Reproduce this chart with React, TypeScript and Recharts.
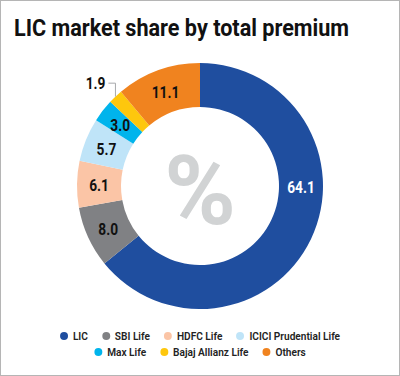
import React from "react";
import { PieChart, Pie, Cell, Legend } from "recharts";

const categories = ["LIC", "SBI Life", "HDFC Life", "ICICI Prudential Life", "Max Life", "Bajaj Allianz Life", "Others"];
const shares = [64.1, 8.0, 6.1, 5.7, 3.0, 1.9, 11.1];
const colors = ["#1f4e9f", "#808184", "#fbc5a6", "#bfe4f8", "#00b4ec", "#fec70d", "#f0831f"];
const legendRows = [
  ["LIC", "SBI Life", "HDFC Life", "ICICI Prudential Life"],
  ["Max Life", "Bajaj Allianz Life", "Others"],
];

const data = categories.map((name, i) => ({ name, value: shares[i], color: colors[i] }));

const FONT = "'Roboto', 'Liberation Sans', sans-serif";
const RAD = Math.PI / 180;
const LABEL_SX = 0.86;
const LEGEND_SX = 0.88;

const renderLabel = (props: any) => {
  const { cx, cy, midAngle, innerRadius, outerRadius, value, index } = props;
  const mid = (innerRadius + outerRadius) / 2;
  const text = Number(value).toFixed(1);
  if (value < 2.5) {
    const ox = cx + outerRadius * Math.cos(-midAngle * RAD);
    const oy = cy + outerRadius * Math.sin(-midAngle * RAD);
    const ty = oy - 13.5;
    return (
      <g key={`l${index}`}>
        <polyline points={`${ox},${oy} ${ox},${ty} ${ox - 7},${ty}`} fill="none" stroke="#a7a9ac" strokeWidth={1} />
        <g transform={`translate(${ox - 10},${ty}) scale(${LABEL_SX},1)`}>
          <text x={0} y={0} dy="0.36em" textAnchor="end" fontFamily={FONT} fontWeight="bold" fontSize={16} fill="#111">
            {text}
          </text>
        </g>
      </g>
    );
  }
  const angle = value > 50 ? 0 : midAngle;
  const x = cx + mid * Math.cos(-angle * RAD);
  const y = cy + mid * Math.sin(-angle * RAD);
  return (
    <g key={`l${index}`} transform={`translate(${x},${y + 1}) scale(${LABEL_SX},1)`}>
      <text x={0} y={0} dy="0.36em" textAnchor="middle" fontFamily={FONT} fontWeight="bold" fontSize={16} fill={value > 50 ? "#ffffff" : "#111"}>
        {text}
      </text>
    </g>
  );
};

const LegendContent = () => (
  <div
    style={{
      fontFamily: FONT,
      fontSize: 11.5,
      fontWeight: 600,
      color: "#222",
      transform: `scaleX(${LEGEND_SX})`,
      transformOrigin: "center",
    }}
  >
    {legendRows.map((row, r) => (
      <div key={r} style={{ display: "flex", justifyContent: "center", gap: 14 / LEGEND_SX, height: 16, alignItems: "center" }}>
        {row.map((name) => {
          const i = categories.indexOf(name);
          return (
            <div key={name} style={{ display: "flex", alignItems: "center" }}>
              <span
                style={{
                  width: 8 / LEGEND_SX,
                  height: 8,
                  borderRadius: "50%",
                  background: colors[i],
                  display: "inline-block",
                  marginRight: 5 / LEGEND_SX,
                }}
              />
              <span style={{ whiteSpace: "nowrap" }}>{name}</span>
            </div>
          );
        })}
      </div>
    ))}
  </div>
);

export default function App() {
  return (
    <div
      style={{
        position: "absolute",
        left: 0,
        top: 0,
        width: 400,
        height: 376,
        background: "#fff",
        boxSizing: "border-box",
        border: "1px solid #b5b5b5",
        overflow: "hidden",
      }}
    >
      <div
        style={{
          position: "absolute",
          left: 13,
          top: 13,
          fontFamily: FONT,
          fontWeight: "bold",
          fontSize: 24,
          color: "#111",
          whiteSpace: "nowrap",
          transform: "scaleX(0.9)",
          transformOrigin: "left top",
        }}
      >
        LIC market share by total premium
      </div>
      <div style={{ position: "absolute", left: 0, top: 0 }}>
        <PieChart width={398} height={374} margin={{ top: 0, right: 0, bottom: 0, left: 0 }}>
          <text x={199} y={188} dy="0.36em" textAnchor="middle" fontFamily={FONT} fontWeight="bold" fontSize={97} fill="#d1d3d4">
            %
          </text>
          <Pie
            data={data}
            dataKey="value"
            nameKey="name"
            cx={199}
            cy={185}
            innerRadius={79}
            outerRadius={123}
            startAngle={90}
            endAngle={-270}
            stroke="none"
            label={renderLabel}
            labelLine={false}
            isAnimationActive={false}
          >
            {data.map((d) => (
              <Cell key={d.name} fill={d.color} />
            ))}
          </Pie>
          <Legend content={<LegendContent />} wrapperStyle={{ position: "absolute", top: 327, left: 0, width: 398 }} />
        </PieChart>
      </div>
    </div>
  );
}
